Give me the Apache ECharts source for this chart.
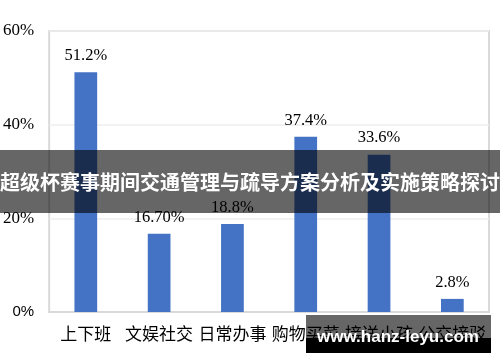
<!DOCTYPE html>
<html>
<head>
<meta charset="utf-8">
<script src="https://cdn.jsdelivr.net/npm/echarts@6/dist/echarts.min.js"></script>
<style>html,body{margin:0;padding:0;background:#fff}#c{width:500px;height:362px}</style>
</head>
<body>
<div id="c"></div>
<script>
var categories = ['上下班', '文娱社交', '日常办事', '购物买菜', '接送小孩', '公交接驳'];
var values = [51.2, 16.7, 18.8, 37.4, 33.6, 2.8];
var valueLabels = ['51.2%', '16.70%', '18.8%', '37.4%', '33.6%', '2.8%'];
var yTicks = [0, 20, 40, 60];
var titleText = '超级杯赛事期间交通管理与疏导方案分析及实施策略探讨';
var watermarkText = 'www.hanz-leyu.com';

var chart = echarts.init(document.getElementById('c'), null, {renderer: 'canvas'});
chart.setOption({
  animation: false,
  backgroundColor: '#fff',
  grid: {left: 45, right: 11, top: 31, bottom: 50, show: true, borderColor: '#d9d9d9', borderWidth: 2, containLabel: false},
  xAxis: {
    type: 'category',
    data: categories,
    axisTick: {show: false},
    axisLine: {show: true, lineStyle: {color: '#d9d9d9', width: 2}},
    axisLabel: {color: '#000', fontSize: 17, fontFamily: 'Noto Sans CJK SC', margin: 13, interval: 0}
  },
  yAxis: {
    type: 'value',
    min: yTicks[0],
    max: yTicks[yTicks.length - 1],
    interval: 20,
    axisLine: {show: false},
    axisTick: {show: false},
    splitLine: {lineStyle: {color: '#eeeeee', width: 1.5}},
    axisLabel: {
      margin: 15,
      formatter: function (v) { return v === 0 ? '{s|0%}' : '{t|' + v + '%}'; },
      rich: {
        s: {fontFamily: 'Liberation Sans', fontSize: 15, color: '#000'},
        t: {fontFamily: 'Liberation Serif', fontSize: 17, color: '#000'}
      }
    }
  },
  series: [{
    type: 'bar',
    data: values,
    barWidth: '31%',
    itemStyle: {color: '#4472C4'},
    label: {
      show: true,
      position: 'top',
      distance: 8,
      color: '#000',
      fontFamily: 'Liberation Serif',
      fontSize: 16.5,
      formatter: function (p) { return valueLabels[p.dataIndex]; }
    }
  }],
  graphic: [
    {type: 'rect', z: 100, shape: {x: 0, y: 150, width: 500, height: 63}, style: {fill: 'rgba(0,0,0,0.6)'}},
    {type: 'text', z: 101, x: 250, y: 182, style: {text: titleText, fill: '#fff', font: 'bold 20px "Noto Sans CJK SC"', textAlign: 'center', textVerticalAlign: 'middle'}},
    {type: 'rect', z: 100, shape: {x: 306, y: 315, width: 185, height: 23}, style: {fill: 'rgba(0,0,0,0.6)'}},
    {type: 'rect', z: 100, shape: {x: 306, y: 338, width: 185, height: 15}, style: {fill: '#000'}},
    {type: 'text', z: 101, x: 398, y: 337, style: {text: watermarkText, fill: '#fff', font: 'bold 17px "Liberation Sans"', textAlign: 'center', textVerticalAlign: 'middle'}}
  ]
});
</script>
</body>
</html>
